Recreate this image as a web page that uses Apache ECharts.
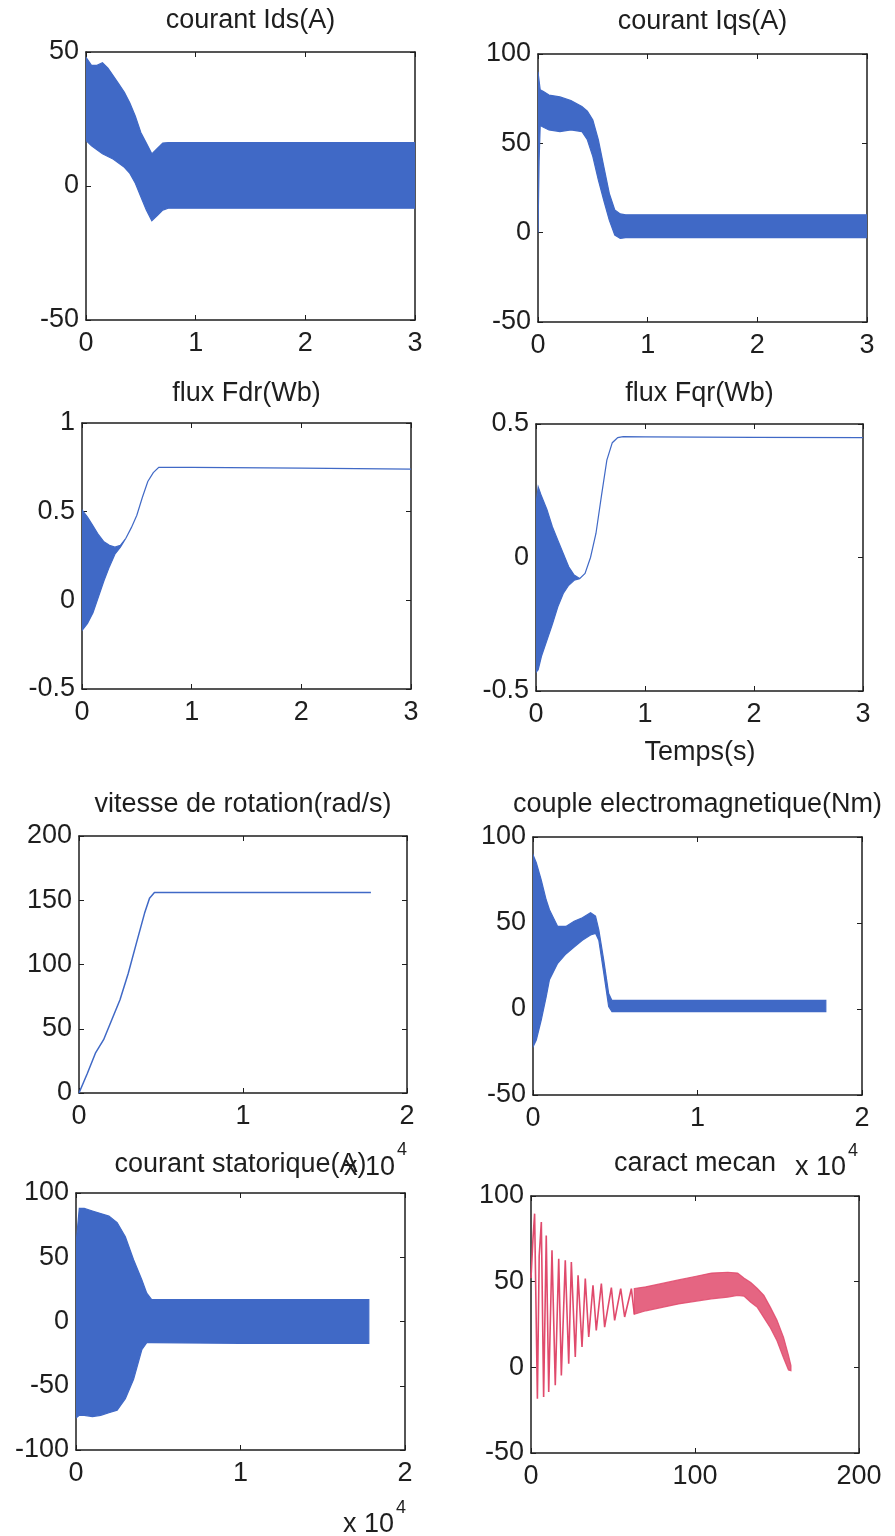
<!DOCTYPE html>
<html>
<head>
<meta charset="utf-8">
<script src="https://cdn.jsdelivr.net/npm/echarts@6/dist/echarts.min.js"></script>
<style>
  html, body { margin: 0; padding: 0; background: #fff; }
  #chart { width: 895px; height: 1536px; }
</style>
</head>
<body>
<div id="chart"></div>
<script>
var FONT = 'Liberation Sans, Arial, sans-serif';
var BLUE = '#4069c6';
var RED = '#e04a6c';
var INK = '#1e1e1e';

// courant Ids(A) : envelope of the oscillation band
var idsT  = [0, 0.05, 0.1, 0.15, 0.2, 0.25, 0.3, 0.35, 0.4, 0.45, 0.5, 0.55, 0.6, 0.65, 0.7, 0.75, 1, 1.5, 2, 2.5, 3];
var idsHi = [48, 45, 45, 46, 44, 41, 38, 35, 31, 26, 20, 16, 12, 14, 16, 16.2, 16.2, 16.2, 16.2, 16.2, 16.2];
var idsLo = [17, 15, 13.5, 12, 11, 10, 8.5, 7, 4.7, 1, -4, -9, -13, -11, -9, -8.3, -8.3, -8.3, -8.3, -8.3, -8.3];

// courant Iqs(A)
var iqsT  = [0, 0.01, 0.02, 0.05, 0.1, 0.2, 0.3, 0.4, 0.45, 0.5, 0.55, 0.6, 0.65, 0.7, 0.75, 0.8, 1, 2, 3];
var iqsHi = [90, 85, 80, 79, 77, 76, 74, 70.6, 68, 63, 52, 37, 22, 12.7, 10.5, 10, 10, 10, 10];
var iqsLo = [0, 40, 60, 59, 57.5, 56.6, 57.5, 56.6, 52, 42.6, 29.5, 18, 7, -1.3, -3.2, -2.8, -2.8, -2.8, -2.8];

// flux Fdr(Wb)
var fdrT  = [0, 0.05, 0.1, 0.15, 0.2, 0.25, 0.3, 0.35, 0.4, 0.45, 0.5, 0.55, 0.6, 0.65, 0.7, 1, 2, 3];
var fdrHi = [0.51, 0.47, 0.42, 0.37, 0.33, 0.31, 0.30, 0.31, 0.35, 0.41, 0.48, 0.58, 0.67, 0.72, 0.75, 0.75, 0.745, 0.74];
var fdrLo = [-0.17, -0.13, -0.07, 0.02, 0.11, 0.19, 0.26, 0.30, 0.35, 0.41, 0.48, 0.58, 0.67, 0.72, 0.75, 0.75, 0.745, 0.74];

// flux Fqr(Wb)
var fqrT  = [0, 0.02, 0.05, 0.1, 0.15, 0.2, 0.25, 0.3, 0.35, 0.4, 0.45, 0.5, 0.55, 0.6, 0.65, 0.7, 0.75, 0.8, 1, 2, 3];
var fqrHi = [0.2, 0.265, 0.23, 0.18, 0.115, 0.065, 0.015, -0.035, -0.066, -0.079, -0.06, 0.0, 0.09, 0.23, 0.365, 0.43, 0.449, 0.453, 0.452, 0.45, 0.449];
var fqrLo = [-0.43, -0.42, -0.37, -0.31, -0.25, -0.185, -0.135, -0.104, -0.085, -0.079, -0.06, 0.0, 0.09, 0.23, 0.365, 0.43, 0.449, 0.453, 0.452, 0.45, 0.449];

// vitesse de rotation(rad/s), x in samples
var vitN = [0, 500, 1000, 1500, 2000, 2500, 3000, 3500, 4000, 4300, 4600, 10000, 17800];
var vitW = [0, 15, 31, 41.5, 57, 72.5, 93, 116.6, 140, 151.5, 156, 156, 156];

// couple electromagnetique(Nm)
var cemN  = [0, 200, 500, 800, 1000, 1500, 2000, 2500, 3000, 3500, 3800, 4000, 4300, 4600, 4800, 10000, 17800];
var cemHi = [89.7, 85, 75, 63.5, 57.7, 48, 48, 51, 53, 56, 54, 46, 28.5, 9, 5, 5, 5];
var cemLo = [-22, -18, -6.4, 7, 17, 26.6, 32, 36, 40, 43, 44, 40, 21, 1.4, -1.5, -1.5, -1.5];

// courant statorique(A)
var isN  = [0, 200, 500, 1000, 1500, 2000, 2500, 3000, 3500, 4000, 4300, 4600, 10000, 17800];
var isHi = [60, 88, 88, 86, 84, 82, 77, 66, 48, 32.5, 22, 17, 17, 17];
var isLo = [-75, -73, -73, -74, -73, -71, -69, -60, -45, -22, -16.5, -16.5, -17, -17];

// caract mecan : visible swings first, then the dense band
var mecSwingX = [0, 1.2, 2.2, 3.9, 5, 6.3, 7.7, 9.3, 10.8, 12.8, 14.8, 16.9, 18.5, 20.9, 23, 24.6, 27, 28.7, 31.1, 33.1, 35.2, 37.8, 39.8, 42.9, 44.9, 49, 51, 54.7, 57.1, 61.2, 63];
var mecSwingY = [52, 75, 89.7, -18.3, 65, 84.8, -17.3, 77, -14.4, 68.3, -10.5, 63.4, -4.7, 62.5, 2.1, 61.5, 6, 53.7, 11.9, 51.8, 17.7, 47.9, 21.6, 48.9, 23.5, 46.5, 27.4, 45.9, 29.4, 45.9, 31];
var mecX  = [63, 70, 80, 90, 100, 110, 120, 126, 130, 134, 138, 142, 146, 150, 154, 157, 158.5];
var mecHi = [46, 47, 49, 51, 53, 55, 55.5, 55, 52, 49.5, 46, 42, 35, 27.5, 17.5, 7, 1];
var mecLo = [31, 33, 35, 37, 38.5, 40, 41, 42, 41.5, 38, 35, 29, 23, 15.5, 5.5, -1.5, -2];

// plot boxes (layout)
var boxes = [
  {l: 86,  t: 52,   w: 329, h: 268},
  {l: 538, t: 54,   w: 329, h: 268},
  {l: 82,  t: 423,  w: 329, h: 266},
  {l: 536, t: 424,  w: 327, h: 267},
  {l: 79,  t: 836,  w: 328, h: 257},
  {l: 533, t: 837,  w: 329, h: 258},
  {l: 76,  t: 1193, w: 329, h: 257},
  {l: 531, t: 1196, w: 328, h: 257}
];
var titles = ['courant Ids(A)', 'courant Iqs(A)', 'flux Fdr(Wb)', 'flux Fqr(Wb)',
  'vitesse de rotation(rad/s)', 'couple electromagnetique(Nm)', 'courant statorique(A)', 'caract mecan'];
var titleY = [21, 22, 394, 394, 805, 805, 1165, 1164];
var scales = [
  {x: [0, 3, 1], y: [-50, 50, 50]},
  {x: [0, 3, 1], y: [-50, 100, 50]},
  {x: [0, 3, 1], y: [-0.5, 1, 0.5]},
  {x: [0, 3, 1], y: [-0.5, 0.5, 0.5]},
  {x: [0, 20000, 10000], y: [0, 200, 50], e4: true},
  {x: [0, 20000, 10000], y: [-50, 100, 50], e4: true},
  {x: [0, 20000, 10000], y: [-100, 100, 50], e4: true},
  {x: [0, 200, 100], y: [-50, 100, 50]}
];

var grids = [], xAxes = [], yAxes = [], series = [], graphics = [];

boxes.forEach(function (b, i) {
  grids.push({left: b.l, top: b.t, width: b.w, height: b.h, containLabel: false});
  var s = scales[i];
  var line = {show: true, onZero: false, lineStyle: {color: INK, width: 1.5}};
  var tick = {show: true, inside: true, length: 5, lineStyle: {color: INK, width: 1}};
  var lab = {color: INK, fontFamily: FONT, fontSize: 27};
  xAxes.push({
    type: 'value', gridIndex: i, position: 'bottom', min: s.x[0], max: s.x[1], interval: s.x[2],
    axisLine: line, axisTick: tick, splitLine: {show: false},
    axisLabel: Object.assign({margin: 10, formatter: s.e4 ? function (v) { return String(v / 10000); } : null}, lab)
  });
  xAxes.push({
    type: 'value', gridIndex: i, position: 'top', min: s.x[0], max: s.x[1], interval: s.x[2],
    axisLine: line, axisTick: tick, splitLine: {show: false}, axisLabel: {show: false}
  });
  yAxes.push({
    type: 'value', gridIndex: i, position: 'left', min: s.y[0], max: s.y[1], interval: s.y[2],
    axisLine: line, axisTick: tick, splitLine: {show: false},
    axisLabel: Object.assign({margin: 7}, lab)
  });
  yAxes.push({
    type: 'value', gridIndex: i, position: 'right', min: s.y[0], max: s.y[1], interval: s.y[2],
    axisLine: line, axisTick: tick, splitLine: {show: false}, axisLabel: {show: false}
  });
  graphics.push({
    type: 'text', x: b.l + b.w / 2, y: titleY[i],
    style: {text: titles[i], fill: INK, font: '27px ' + FONT, align: 'center', verticalAlign: 'middle'}
  });
});

// filled oscillation band between a lower and an upper envelope
function band(i, xs, lo, hi, color, opacity) {
  series.push({
    type: 'custom', xAxisIndex: 2 * i, yAxisIndex: 2 * i, silent: true, clip: true,
    data: xs.map(function (x, k) { return [x, lo[k], hi[k]]; }),
    encode: {x: 0, y: [1, 2]},
    renderItem: function (params, api) {
      if (params.dataIndex !== 0) return null;
      var pts = [];
      for (var k = 0; k < xs.length; k++) pts.push(api.coord([xs[k], hi[k]]));
      for (var j = xs.length - 1; j >= 0; j--) pts.push(api.coord([xs[j], lo[j]]));
      return {
        type: 'polygon',
        shape: {points: pts},
        style: {fill: color, opacity: opacity, stroke: color, lineWidth: 1.2}
      };
    }
  });
}

function trace(i, xs, ys, color, width) {
  series.push({
    type: 'line', xAxisIndex: 2 * i, yAxisIndex: 2 * i, symbol: 'none', silent: true,
    lineStyle: {color: color, width: width},
    data: xs.map(function (x, k) { return [x, ys[k]]; })
  });
}

band(0, idsT, idsLo, idsHi, BLUE, 1);
band(1, iqsT, iqsLo, iqsHi, BLUE, 1);
band(2, fdrT, fdrLo, fdrHi, BLUE, 1);
band(3, fqrT, fqrLo, fqrHi, BLUE, 1);
trace(4, vitN, vitW, BLUE, 1.5);
band(5, cemN, cemLo, cemHi, BLUE, 1);
band(6, isN, isLo, isHi, BLUE, 1);
trace(7, mecSwingX, mecSwingY, RED, 1.6);
band(7, mecX, mecLo, mecHi, RED, 0.85);

// axis annotations
function txt(x, y, s, size, align) {
  graphics.push({type: 'text', x: x, y: y,
    style: {text: s, fill: INK, font: size + 'px ' + FONT, align: align, verticalAlign: 'middle'}});
}
txt(700, 753, 'Temps(s)', 27, 'center');
txt(395, 1168, 'x 10', 27, 'right');
txt(397, 1150, '4', 18, 'left');
txt(846, 1168, 'x 10', 27, 'right');
txt(848, 1151, '4', 18, 'left');
txt(394, 1525, 'x 10', 27, 'right');
txt(396, 1508, '4', 18, 'left');

var chart = echarts.init(document.getElementById('chart'));
chart.setOption({
  animation: false,
  backgroundColor: '#fff',
  grid: grids,
  xAxis: xAxes,
  yAxis: yAxes,
  series: series,
  graphic: graphics
});
</script>
</body>
</html>
